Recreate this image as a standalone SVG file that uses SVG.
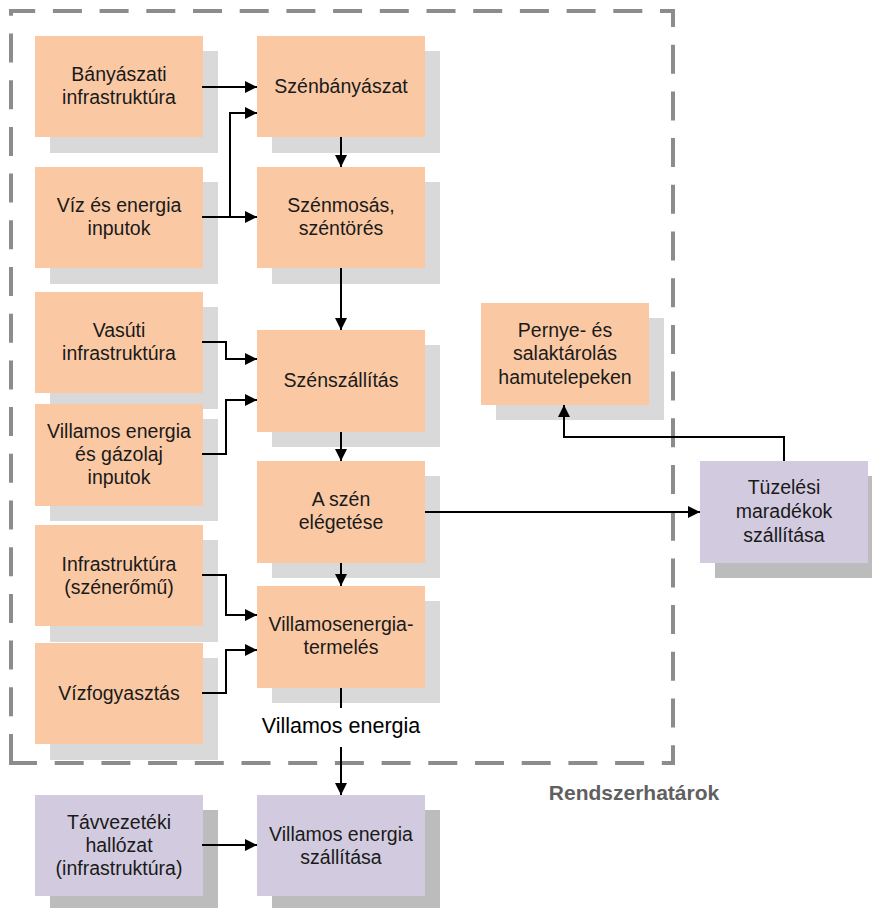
<svg xmlns="http://www.w3.org/2000/svg" width="872" height="908" viewBox="0 0 872 908">
  <defs>
    <marker id="arrow" viewBox="0 0 12 12" refX="12" refY="6" markerWidth="12" markerHeight="12" markerUnits="userSpaceOnUse" orient="auto">
      <path d="M0,0 L12,6 L0,12 Z" fill="#000"/>
    </marker>
    <style>
      .box-o { fill: #fac9a4; }
      .box-p { fill: #d2cbe0; }
      .sh-o { fill: #d9d9d9; }
      .sh-p { fill: #bcbcbc; }
      .lbl { font-family: "Liberation Sans", Arial, sans-serif; font-size: 19.5px; fill: #1a1a1a; text-anchor: middle; }
      .edge { fill: none; stroke: #000; stroke-width: 2; }
      .edge-a { fill: none; stroke: #000; stroke-width: 2; marker-end: url(#arrow); }
      .boundary { fill: none; stroke: #8c8c8c; stroke-width: 4; stroke-dasharray: 29 17.7; }
    </style>
  </defs>

  <rect width="872" height="908" fill="#fff"/>

  <!-- system boundary -->
  <path class="boundary" d="M11,763 L11,11 L673,11 L673,763 Z"/>
  <text x="634" y="800" font-family="'Liberation Sans', Arial, sans-serif" font-size="21" font-weight="bold" fill="#606060" text-anchor="middle">Rendszerhatárok</text>

  <!-- left column -->
  <g id="banyaszati-infra">
    <rect class="sh-o" x="50" y="51" width="168" height="102"/>
    <rect class="box-o" x="35" y="36" width="168" height="101"/>
    <text class="lbl" x="119" y="81">Bányászati</text>
    <text class="lbl" x="119" y="104">infrastruktúra</text>
  </g>
  <g id="viz-energia">
    <rect class="sh-o" x="50" y="182" width="168" height="102"/>
    <rect class="box-o" x="35" y="167" width="168" height="101"/>
    <text class="lbl" x="119" y="212">Víz és energia</text>
    <text class="lbl" x="119" y="235">inputok</text>
  </g>
  <g id="vasuti-infra">
    <rect class="sh-o" x="50" y="307" width="168" height="102"/>
    <rect class="box-o" x="35" y="292" width="168" height="101"/>
    <text class="lbl" x="119" y="337">Vasúti</text>
    <text class="lbl" x="119" y="360">infrastruktúra</text>
  </g>
  <g id="villamos-gazolaj">
    <rect class="sh-o" x="50" y="419" width="168" height="102"/>
    <rect class="box-o" x="35" y="404" width="168" height="102"/>
    <text class="lbl" x="119" y="438">Villamos energia</text>
    <text class="lbl" x="119" y="461">és gázolaj</text>
    <text class="lbl" x="119" y="484">inputok</text>
  </g>
  <g id="infra-szeneromu">
    <rect class="sh-o" x="50" y="540" width="168" height="102"/>
    <rect class="box-o" x="35" y="525" width="168" height="101"/>
    <text class="lbl" x="119" y="571">Infrastruktúra</text>
    <text class="lbl" x="119" y="594">(szénerőmű)</text>
  </g>
  <g id="vizfogyasztas">
    <rect class="sh-o" x="50" y="658" width="168" height="102"/>
    <rect class="box-o" x="35" y="643" width="168" height="101"/>
    <text class="lbl" x="119" y="700">Vízfogyasztás</text>
  </g>
  <g id="tavvezeteki">
    <rect class="sh-p" x="50" y="810" width="168" height="102"/>
    <rect class="box-p" x="35" y="795" width="168" height="101"/>
    <text class="lbl" x="119" y="829">Távvezetéki</text>
    <text class="lbl" x="119" y="852">hallózat</text>
    <text class="lbl" x="119" y="875">(infrastruktúra)</text>
  </g>

  <!-- process chain -->
  <g id="szenbanyaszat">
    <rect class="sh-o" x="272" y="51" width="168" height="102"/>
    <rect class="box-o" x="257" y="36" width="168" height="101"/>
    <text class="lbl" x="341" y="93">Szénbányászat</text>
  </g>
  <g id="szenmosas">
    <rect class="sh-o" x="272" y="182" width="168" height="102"/>
    <rect class="box-o" x="257" y="167" width="168" height="101"/>
    <text class="lbl" x="341" y="212">Szénmosás,</text>
    <text class="lbl" x="341" y="235">széntörés</text>
  </g>
  <g id="szenszallitas">
    <rect class="sh-o" x="272" y="345" width="168" height="102"/>
    <rect class="box-o" x="257" y="330" width="168" height="102"/>
    <text class="lbl" x="341" y="387">Szénszállítás</text>
  </g>
  <g id="szen-elegetese">
    <rect class="sh-o" x="272" y="476" width="168" height="102"/>
    <rect class="box-o" x="257" y="461" width="168" height="102"/>
    <text class="lbl" x="341" y="506">A szén</text>
    <text class="lbl" x="341" y="529">elégetése</text>
  </g>
  <g id="villamosenergia-termeles">
    <rect class="sh-o" x="272" y="601" width="168" height="102"/>
    <rect class="box-o" x="257" y="586" width="168" height="102"/>
    <text class="lbl" x="341" y="631">Villamosenergia-</text>
    <text class="lbl" x="341" y="654">termelés</text>
  </g>
  <g id="villamos-szallitasa">
    <rect class="sh-p" x="272" y="810" width="168" height="102"/>
    <rect class="box-p" x="257" y="795" width="168" height="101"/>
    <text class="lbl" x="341" y="841">Villamos energia</text>
    <text class="lbl" x="341" y="864">szállítása</text>
  </g>

  <!-- residues -->
  <g id="pernye-salak">
    <rect class="sh-o" x="496" y="318" width="168" height="102"/>
    <rect class="box-o" x="481" y="303" width="168" height="102"/>
    <text class="lbl" x="565" y="337">Pernye- és</text>
    <text class="lbl" x="565" y="360">salaktárolás</text>
    <text class="lbl" x="565" y="384">hamutelepeken</text>
  </g>
  <g id="tuzelesi-maradekok">
    <rect class="sh-p" x="715" y="476" width="168" height="102"/>
    <rect class="box-p" x="700" y="461" width="168" height="102"/>
    <text class="lbl" x="784" y="494">Tüzelési</text>
    <text class="lbl" x="784" y="518">maradékok</text>
    <text class="lbl" x="784" y="542">szállítása</text>
  </g>

  <!-- connectors -->
  <g id="connectors">
    <path class="edge-a" d="M202,87 L257,87"/>
    <path class="edge-a" d="M202,217 L257,217"/>
    <path class="edge-a" d="M230,217 L230,113 L257,113"/>
    <path class="edge-a" d="M341,137 L341,167"/>
    <path class="edge-a" d="M341,268 L341,330"/>
    <path class="edge-a" d="M202,342 L226,342 L226,359 L257,359"/>
    <path class="edge-a" d="M202,454 L226,454 L226,400 L257,400"/>
    <path class="edge-a" d="M341,432 L341,461"/>
    <path class="edge-a" d="M341,563 L341,586"/>
    <path class="edge-a" d="M202,575 L226,575 L226,615 L257,615"/>
    <path class="edge-a" d="M202,693 L226,693 L226,650 L257,650"/>
    <path class="edge" d="M341,688 L341,708"/>
    <path class="edge-a" d="M341,747 L341,795"/>
    <path class="edge-a" d="M202,845 L257,845"/>
    <path class="edge-a" d="M425,512 L700,512"/>
    <path class="edge-a" d="M784,461 L784,437 L564,437 L564,405"/>
  </g>
  <text x="341" y="733" font-family="'Liberation Sans', Arial, sans-serif" font-size="21.5" fill="#000" text-anchor="middle">Villamos energia</text>
</svg>
